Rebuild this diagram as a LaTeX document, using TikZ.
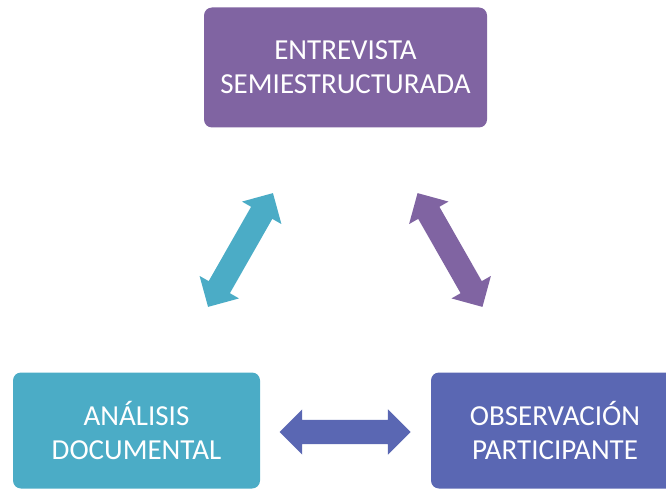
\documentclass[tikz,border=0pt]{standalone}
\usepackage{fontspec}
\setmainfont{Carlito}
\usetikzlibrary{shapes.arrows}
\definecolor{cpurple}{HTML}{8064A2}
\definecolor{cteal}{HTML}{4BACC6}
\definecolor{cblue}{HTML}{5A67B3}
\begin{document}
\begin{tikzpicture}[x=1pt,y=-1pt,
  box/.style={rounded corners=8pt, minimum height=120pt, text=white,
    font=\fontsize{29}{34}\selectfont, align=center, inner sep=0pt},
  dblarrow/.style={double arrow, inner xsep=0pt, inner ysep=12pt,
    double arrow head extend=10.5pt, minimum height=131pt, draw=none}]
\useasboundingbox (0,0) rectangle (666,489);
\clip (0,0) rectangle (666,489);
\node[box, fill=cpurple, minimum width=283pt] (ent) at (345.5,67.5) {ENTREVISTA\\SEMIESTRUCTURADA};
\node[box, fill=cteal, minimum width=247pt, minimum height=116pt] (ana) at (136.5,430.5) {ANÁLISIS\\DOCUMENTAL};
\node[box, fill=cblue, minimum width=248pt, minimum height=116pt] (obs) at (555,430.5) {OBSERVACIÓN\\PARTICIPANTE};
\node[dblarrow, fill=cteal, rotate=60.3] (a1) at (240.5,250) {};
\node[dblarrow, fill=cpurple, rotate=-60.3] (a2) at (450,250) {};
\node[dblarrow, fill=cblue] (a3) at (345,432) {};
\end{tikzpicture}
\end{document}
